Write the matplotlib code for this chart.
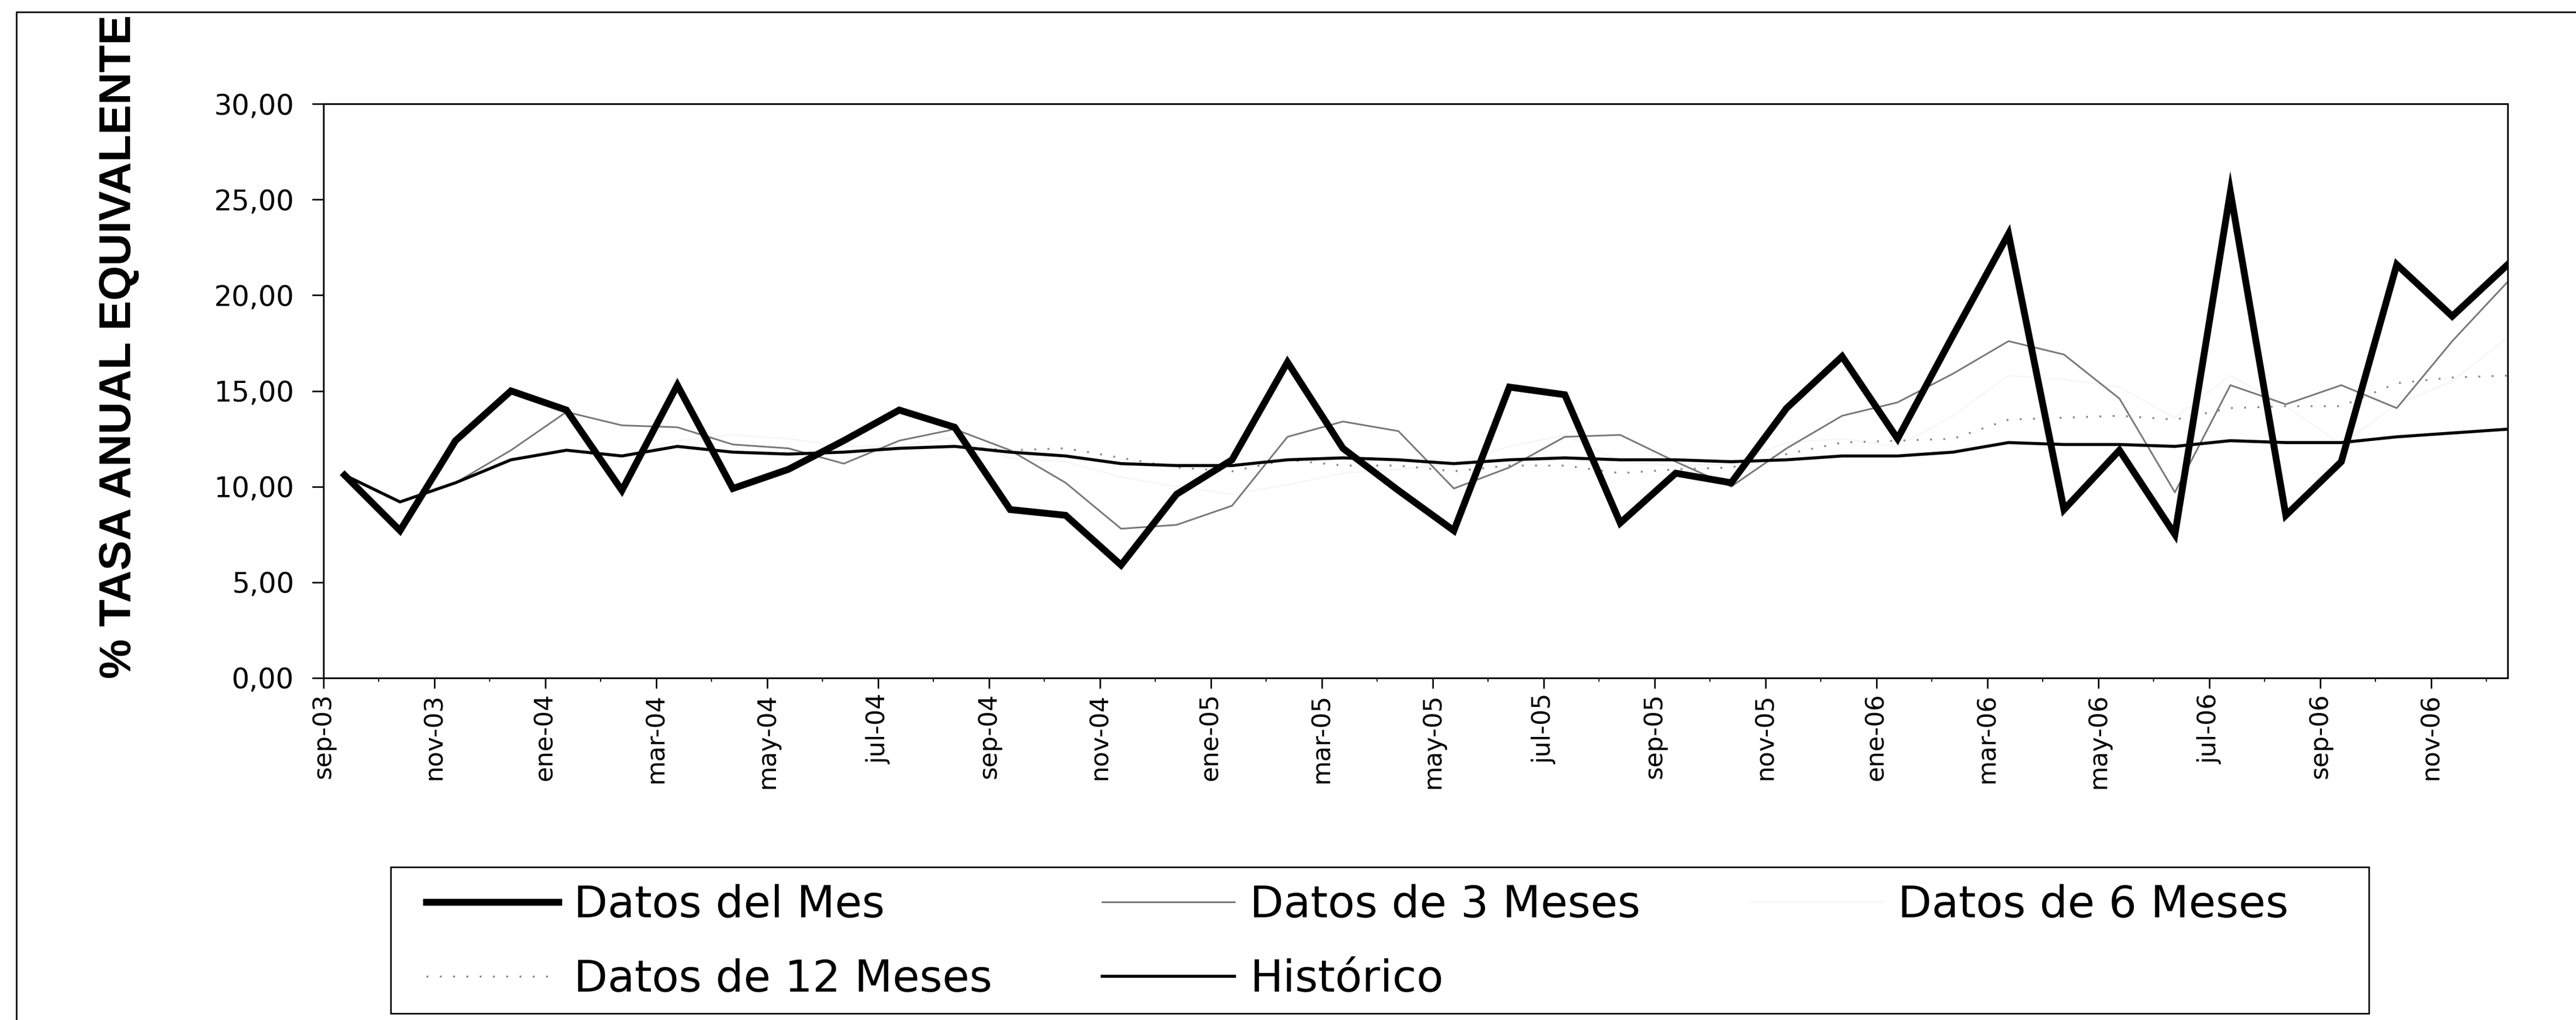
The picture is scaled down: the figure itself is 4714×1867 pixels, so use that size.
import matplotlib.pyplot as plt
import numpy as np
from matplotlib.patches import Rectangle

# monthly series sep-03 .. dic-06
meses = ['sep-03', 'oct-03', 'nov-03', 'dic-03',
         'ene-04', 'feb-04', 'mar-04', 'abr-04', 'may-04', 'jun-04',
         'jul-04', 'ago-04', 'sep-04', 'oct-04', 'nov-04', 'dic-04',
         'ene-05', 'feb-05', 'mar-05', 'abr-05', 'may-05', 'jun-05',
         'jul-05', 'ago-05', 'sep-05', 'oct-05', 'nov-05', 'dic-05',
         'ene-06', 'feb-06', 'mar-06', 'abr-06', 'may-06', 'jun-06',
         'jul-06', 'ago-06', 'sep-06', 'oct-06', 'nov-06', 'dic-06']

datos_mes = [10.6, 7.7, 12.4, 15.0, 14.0, 9.8, 15.3, 9.9, 10.9, 12.4,
             14.0, 13.1, 8.8, 8.5, 5.9, 9.6, 11.4, 16.5, 12.0, 9.8,
             7.7, 15.2, 14.8, 8.1, 10.7, 10.2, 14.1, 16.8, 12.5, 17.9,
             23.2, 8.8, 11.9, 7.5, 25.4, 8.5, 11.3, 21.6, 18.9, 21.6]

datos_3m = [np.nan, np.nan, 10.2, 11.9, 13.9, 13.2, 13.1, 12.2, 12.0, 11.2,
            12.4, 13.0, 11.9, 10.2, 7.8, 8.0, 9.0, 12.6, 13.4, 12.9,
            9.9, 11.0, 12.6, 12.7, 11.3, 10.0, 12.0, 13.7, 14.4, 15.9,
            17.6, 16.9, 14.6, 9.7, 15.3, 14.3, 15.3, 14.1, 17.6, 20.7]

datos_6m = [np.nan, np.nan, np.nan, np.nan, np.nan, 11.6, 12.4, 12.7, 12.5, 12.1,
            12.1, 12.6, 11.5, 11.3, 10.5, 10.0, 9.6, 10.1, 10.7, 10.9,
            11.2, 12.1, 12.7, 11.3, 11.1, 11.2, 12.3, 12.5, 12.1, 13.7,
            15.8, 15.6, 15.2, 13.6, 15.8, 14.2, 12.2, 14.3, 15.5, 17.8]

datos_12m = [np.nan] * 11 + [12.1, 11.9, 12.0, 11.5, 11.0, 10.8, 11.4, 11.1, 11.1,
                             10.8, 11.1, 11.1, 10.7, 10.9, 11.0, 11.7, 12.3, 12.4, 12.5,
                             13.5, 13.6, 13.7, 13.5, 14.1, 14.2, 14.2, 15.4, 15.7, 15.8]

historico = [10.6, 9.2, 10.2, 11.4, 11.9, 11.6, 12.1, 11.8, 11.7, 11.8,
             12.0, 12.1, 11.8, 11.6, 11.2, 11.1, 11.1, 11.4, 11.5, 11.4,
             11.2, 11.4, 11.5, 11.4, 11.4, 11.3, 11.4, 11.6, 11.6, 11.8,
             12.3, 12.2, 12.2, 12.1, 12.4, 12.3, 12.3, 12.6, 12.8, 13.0]

y_ticks = [0, 5, 10, 15, 20, 25, 30]
y_labels = ['0,00', '5,00', '10,00', '15,00', '20,00', '25,00', '30,00']

W, H = 4714, 1867
fig = plt.figure(figsize=(W / 100, H / 100), dpi=100)
ax = fig.add_axes([592 / W, 1 - 1241 / H, (4589 - 592) / W, (1241 - 190) / H])

x = np.arange(len(meses)) + 0.38

l_seis, = ax.plot(x, datos_6m, color='#f6f6f6', lw=2)
l_doce, = ax.plot(x, datos_12m, color='#888888', lw=2.5, ls=(0, (1, 6)))
l_tres, = ax.plot(x, datos_3m, color='#777777', lw=2.2)
l_hist, = ax.plot(x, historico, color='black', lw=4)
l_mes, = ax.plot(x, datos_mes, color='black', lw=9, solid_joinstyle='miter')

ax.set_xlim(0, x[-1])
ax.set_ylim(0, 30)

ax.set_yticks(y_ticks)
ax.set_yticklabels(y_labels, fontsize=37, family='DejaVu Sans')
ax.set_xticks(np.arange(0, len(meses), 2))
ax.set_xticklabels(meses[::2], rotation=90, fontsize=33, family='DejaVu Sans')
ax.set_xticks(np.arange(len(meses)), minor=True)

ax.tick_params(axis='y', direction='out', length=15, width=2, pad=24)
ax.tick_params(axis='x', which='major', direction='out', length=14, width=2, pad=6)
ax.tick_params(axis='x', which='minor', direction='out', length=5, width=1.5)
for s in ax.spines.values():
    s.set_linewidth(2.2)
    s.set_color('black')

ax.text(-0.0936, 0.577, '% TASA ANUAL EQUIVALENTE', transform=ax.transAxes,
        rotation=90, ha='center', va='center', fontsize=59, fontweight='bold',
        family='Liberation Sans')

handles = [l_mes, l_doce, l_tres, l_hist, l_seis]
labels = ['Datos del Mes', 'Datos de 12 Meses', 'Datos de 3 Meses',
          'Histórico', 'Datos de 6 Meses']
fig.legend(handles, labels, ncol=3, loc='upper left',
           bbox_to_anchor=(780 / W, 1 - 1618 / H), frameon=False,
           borderpad=0, borderaxespad=0, handlelength=3.0, handletextpad=0.35,
           columnspacing=2.5, labelspacing=0.72,
           prop={'family': 'DejaVu Sans', 'size': 58})

# legend box and outer chart border
fig.add_artist(Rectangle((715 / W, 1 - 1855 / H), (4335 - 715) / W, (1855 - 1587) / H,
                         transform=fig.transFigure, fill=False, lw=2, ec='black'))
fig.add_artist(Rectangle((30 / W, -0.05), 1.1, 1 - 22 / H + 0.05,
                         transform=fig.transFigure, fill=False, lw=2, ec='black'))

fig.savefig('out.png', dpi=100, facecolor='white')
